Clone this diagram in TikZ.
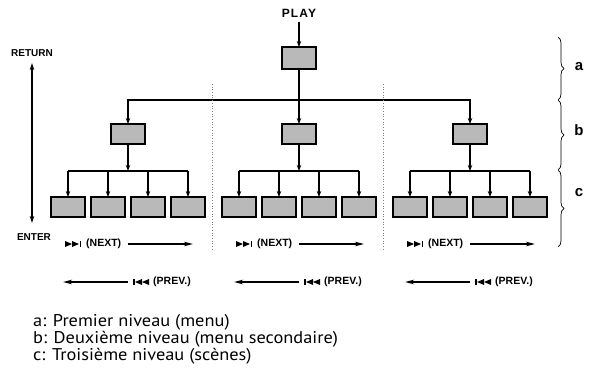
\documentclass[tikz,border=0pt]{standalone}
\usepackage{fontspec}
\usepackage{graphicx}
\setmainfont{Liberation Sans}
\newfontfamily\legfont{PT Sans}
\usetikzlibrary{arrows.meta,decorations.pathreplacing}
\begin{document}
\begin{tikzpicture}[x=1pt,y=-1pt,
  box/.style={draw=black,line width=1.3pt,fill=gray!55,minimum width=34pt,minimum height=20pt,inner sep=0pt,outer sep=0pt},
  topbox/.style={box,minimum height=22pt},
  ln/.style={line width=1.3pt},
  arr/.style={line width=1.3pt,-{Stealth[length=6pt,width=4.5pt]}},
  navarr/.style={line width=1.6pt,-{Stealth[length=9pt,width=4.5pt]}},
  dbl/.style={line width=1.6pt,{Stealth[length=7pt,width=4.5pt]}-{Stealth[length=7pt,width=4.5pt]}},
  small/.style={font=\bfseries\fontsize{10}{12}\selectfont,inner sep=0pt},
  nav/.style={font=\bfseries\fontsize{10.5}{12}\selectfont,inner sep=0pt},
  brlbl/.style={font=\bfseries\fontsize{15}{17}\selectfont,inner sep=0pt},
  leg/.style={font=\legfont\fontsize{17}{19}\selectfont,inner sep=0pt,anchor=base west},
  sep/.style={draw=gray,dotted,line width=0.7pt},
  br/.style={decorate,decoration={brace,amplitude=6pt},line width=0.7pt},
  sym/.style={fill=black}
]
\useasboundingbox (0,0) rectangle (595,369);

% top
\node[inner sep=0pt,font=\bfseries\fontsize{12}{14}\selectfont\addfontfeature{LetterSpace=10}] (play) at (299,13) {PLAY};
\node[topbox] (T) at (299,58) {};
\coordinate (ps) at (299,22);
\draw[arr] (ps) -- (T.north);
\coordinate (J) at (299,100);

% second level
\foreach \g/\cx in {1/128,2/299,3/470}{
  \node[box] (M\g) at (\cx,134) {};
  \coordinate (K\g) at (\cx,171);
  \foreach \i/\dx in {1/-60,2/-20,3/20,4/60}{
    \node[box] (B\g\i) at (\cx+\dx,207) {};
  }
}
\draw[arr] (T.south) -- (M2.north);
\draw[arr] (J) -| (M1.north);
\draw[arr] (J) -| (M3.north);
\foreach \g in {1,2,3}{
  \draw[arr] (M\g.south) -- (K\g);
  \draw[ln] (B\g1.north |- K\g) -- (B\g4.north |- K\g);
  \foreach \i in {1,2,3,4}{
    \draw[arr] (B\g\i.north |- K\g) -- (B\g\i.north);
  }
}

% separators
\coordinate (s1a) at (212,84); \coordinate (s1b) at (212,250);
\coordinate (s2a) at (383,84); \coordinate (s2b) at (383,250);
\draw[sep] (s1a) -- (s1b);
\draw[sep] (s2a) -- (s2b);

% return / enter
\node[small] (ret) at (32,53.5) {RETURN};
\node[small] (ent) at (34,237) {ENTER};
\coordinate (da) at (32,63);
\coordinate (db) at (32,223);
\draw[dbl] (da) -- (db);

% next / prev rows
\foreach \k/\o in {1/0,2/171,3/342}{
  % NEXT symbol
  \fill[sym] (65+\o,241) -- (72+\o,244) -- (65+\o,247) -- cycle;
  \fill[sym] (72+\o,241) -- (79+\o,244) -- (72+\o,247) -- cycle;
  \fill[sym] (79.5+\o,241) rectangle (81+\o,247);
  \node[nav,anchor=west] (nx\k) at (86+\o,244) {(NEXT)};
  \coordinate (na\k) at (128+\o,244);
  \coordinate (nb\k) at (193+\o,244);
  \draw[navarr] (na\k) -- (nb\k);
  % PREV
  \coordinate (pa\k) at (128+\o,282);
  \coordinate (pb\k) at (63+\o,282);
  \draw[navarr] (pa\k) -- (pb\k);
  \fill[sym] (133+\o,279) rectangle (134.5+\o,285);
  \fill[sym] (135+\o,282) -- (142+\o,279) -- (142+\o,285) -- cycle;
  \fill[sym] (142+\o,282) -- (149+\o,279) -- (149+\o,285) -- cycle;
  \node[nav,anchor=west] (pv\k) at (153+\o,282) {(PREV.)};
}

% braces
\coordinate (ba) at (558,37); \coordinate (bb) at (558,100);
\coordinate (bc) at (558,170); \coordinate (bd) at (558,247);
\draw[br] (ba) -- (bb);
\draw[br] (bb) -- (bc);
\draw[br] (bc) -- (bd);
\node[brlbl] (la) at (579,67) {a};
\node[brlbl] (lb) at (579,130) {b};
\node[brlbl] (lc) at (579,193) {c};

% legend
\node[leg] (l1) at (33,326) {\scalebox{1.08}[1]{a: Premier niveau (menu)}};
\node[leg] (l2) at (33,343) {\scalebox{1.08}[1]{b: Deuxième niveau (menu secondaire)}};
\node[leg] (l3) at (33,360) {\scalebox{1.08}[1]{c: Troisième niveau (scènes)}};
\end{tikzpicture}
\end{document}
